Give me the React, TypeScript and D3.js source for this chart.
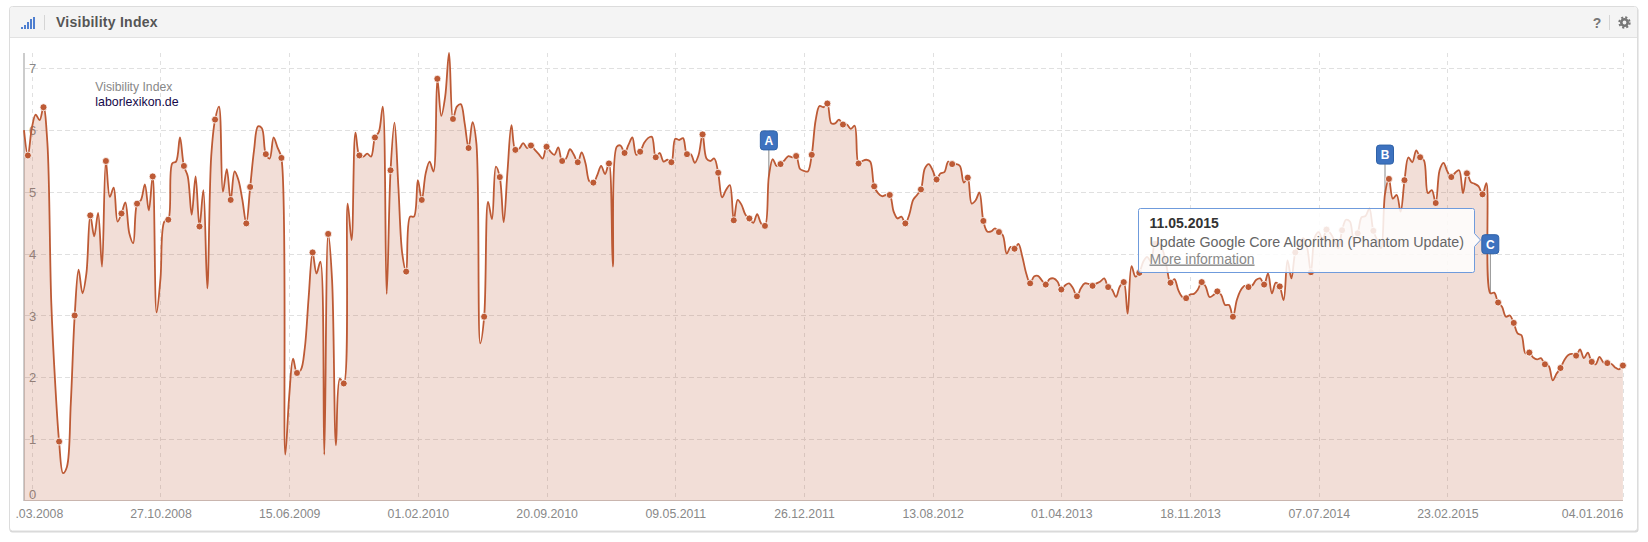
import { useRef, useEffect } from "react";
import * as d3 from "d3";

// one value per data point (weekly crawl)
const visibility = [
  6.0, 5.59, 6.03, 6.25, 6.16, 6.37, 5.79, 3.2, 1.9, 0.96,
  0.45, 0.55, 1.58, 3.0, 3.74, 3.36, 3.68, 4.62, 4.28, 4.66,
  3.79, 5.5, 4.92, 5.07, 4.52, 4.65, 4.83, 4.33, 4.17, 4.81,
  4.87, 5.12, 4.7, 5.25, 3.05, 3.6, 4.52, 4.55, 5.46, 5.49,
  5.88, 5.42, 5.25, 4.63, 5.25, 4.44, 5.03, 3.44, 5.57, 6.17,
  6.38, 5.0, 5.37, 4.87, 5.33, 5.19, 4.87, 4.49, 5.08, 5.68,
  6.06, 6.03, 5.61, 5.54, 5.88, 5.72, 5.55, 0.75, 1.69, 2.3,
  2.07, 2.12, 2.47, 3.3, 4.02, 3.68, 3.87, 0.75, 4.32, 3.57,
  0.9, 1.98, 1.9, 4.81, 4.22, 5.96, 5.59, 5.57, 5.62, 5.57,
  5.88, 5.97, 6.38, 3.35, 5.35, 6.12, 5.08, 4.0, 3.71, 4.6,
  4.6, 5.19, 4.87, 5.3, 5.49, 5.33, 6.83, 6.23, 6.54, 7.25,
  6.18, 6.38, 6.42, 6.11, 5.71, 6.13, 5.79, 2.55, 2.98, 4.84,
  4.56, 5.41, 5.24, 4.51, 5.35, 6.08, 5.68, 5.7, 5.79, 5.71,
  5.75, 5.68, 5.61, 5.54, 5.73, 5.65, 5.6, 5.72, 5.5, 5.54,
  5.69, 5.6, 5.48, 5.64, 5.46, 5.17, 5.15, 5.27, 5.42, 5.29,
  5.46, 3.79, 5.73, 5.75, 5.63, 5.76, 5.88, 5.6, 5.65, 5.79,
  5.87, 5.89, 5.56, 5.63, 5.49, 5.52, 5.48, 5.86, 5.84, 5.87,
  5.61, 5.61, 5.47, 5.6, 5.93, 5.54, 5.5, 5.54, 5.31, 4.91,
  5.03, 5.11, 4.54, 4.87, 4.79, 4.63, 4.57, 4.5, 4.64, 4.49,
  4.45, 5.25, 5.53, 5.42, 5.45, 5.51, 5.58, 5.56, 5.58, 5.37,
  5.34, 5.33, 5.6, 6.16, 6.39, 6.37, 6.43, 6.11, 6.11, 6.17,
  6.09, 6.09, 6.02, 6.07, 5.46, 5.5, 5.52, 5.49, 5.09, 4.98,
  4.93, 4.95, 4.95, 4.68, 4.57, 4.6, 4.49, 4.63, 4.87, 4.95,
  5.04, 5.38, 5.45, 5.35, 5.2, 5.3, 5.32, 5.49, 5.45, 5.45,
  5.42, 5.15, 5.23, 4.81, 4.86, 4.99, 4.53, 4.36, 4.36, 4.41,
  4.35, 4.3, 4.0, 4.11, 4.08, 4.16, 3.95, 3.68, 3.52, 3.63,
  3.64, 3.57, 3.5, 3.59, 3.6, 3.55, 3.42, 3.49, 3.52, 3.44,
  3.31, 3.44, 3.52, 3.51, 3.48, 3.52, 3.55, 3.6, 3.46, 3.42,
  3.3, 3.47, 3.54, 3.03, 3.8, 3.63, 3.69, 3.87, 3.95, 3.87,
  4.16, 4.17, 4.06, 3.79, 3.53, 3.59, 3.41, 3.3, 3.28, 3.34,
  3.35, 3.42, 3.54, 3.47, 3.3, 3.33, 3.39, 3.33, 3.17, 3.17,
  2.98, 3.25, 3.41, 3.48, 3.46, 3.49, 3.58, 3.6, 3.5, 3.68,
  3.36, 3.53, 3.47, 3.25, 3.89, 3.6, 4.02, 4.14, 4.25, 4.11,
  3.7, 4.27, 4.35, 4.22, 4.39, 4.33, 4.22, 4.09, 4.38, 4.55,
  4.52, 4.22, 4.33, 4.59, 4.61, 4.73, 4.37, 4.22, 4.09, 4.97,
  5.21, 4.89, 4.95, 4.68, 5.19, 5.56, 5.48, 5.67, 5.56, 5.51,
  4.98, 5.03, 4.82, 5.35, 5.47, 5.33, 5.24, 5.31, 5.35, 4.98,
  5.3, 5.16, 5.13, 5.09, 4.96, 5.14, 3.36, 3.37, 3.21, 3.14,
  2.98, 3.0, 2.88, 2.71, 2.68, 2.39, 2.4, 2.32, 2.29, 2.31,
  2.21, 2.18, 1.95, 2.06, 2.15, 2.28, 2.36, 2.38, 2.35, 2.45,
  2.31, 2.4, 2.25, 2.21, 2.33, 2.24, 2.23, 2.22, 2.16, 2.13,
  2.19,
];

// x axis is by data point, not by calendar
const xTickPoints = [2, 35, 68, 101, 134, 167, 200, 233, 266, 299, 332, 365, 410];
const xTickLabels = [
  ".03.2008", "27.10.2008", "15.06.2009", "01.02.2010", "20.09.2010",
  "09.05.2011", "26.12.2011", "13.08.2012", "01.04.2013", "18.11.2013",
  "07.07.2014", "23.02.2015", "04.01.2016",
];
const yTicks = [0, 1, 2, 3, 4, 5, 6, 7];

const flagLetters = ["A", "B", "C"];
const flagPoints = [191, 349, 376];
const flagBottoms = [5.68, 5.45, 4.0]; // where the flag box sits, in index units

const tooltipDate = "11.05.2015";
const tooltipText = "Update Google Core Algorithm (Phantom Update)";
const tooltipLink = "More information";

const signalHeights = [2, 4, 7, 10, 12];

const LINE = "#bd5a35";
const GRID = "#e0e0e0";
const FONT = "Arial, 'Liberation Sans', sans-serif";

export default function App() {
  const svgRef = useRef<SVGSVGElement>(null);

  useEffect(() => {
    const w = 1648;
    const h = 542;
    const svg = d3.select(svgRef.current).attr("width", w).attr("height", h);
    svg.selectAll("*").remove();
    svg.style("font-family", FONT);

    // panel + header
    svg.append("rect").attr("x", 9.5).attr("y", 7.5).attr("width", 1629).attr("height", 525)
      .attr("rx", 3).attr("fill", "#d8d8d8");
    svg.append("rect").attr("x", 9.5).attr("y", 6.5).attr("width", 1628).attr("height", 524.5)
      .attr("rx", 3).attr("fill", "#fff").attr("stroke", "#dcdcdc");
    svg.append("path").attr("d", "M10,37V10Q10,7 13,7H1634Q1637,7 1637,10V37Z").attr("fill", "#f4f4f4");
    svg.append("line").attr("x1", 10).attr("x2", 1637).attr("y1", 37.5).attr("y2", 37.5).attr("stroke", "#e2e2e2");

    // header icons
    svg.append("g").selectAll("rect").data(signalHeights).join("rect")
      .attr("x", (d, i) => 21 + i * 3)
      .attr("y", (d) => 29 - d)
      .attr("width", 2)
      .attr("height", (d) => d)
      .attr("fill", "#4f7fd0");
    svg.append("line").attr("x1", 44.5).attr("x2", 44.5).attr("y1", 15).attr("y2", 30).attr("stroke", "#d5d5d5");
    svg.append("text").attr("x", 56).attr("y", 27).attr("font-size", 14).attr("font-weight", "bold")
      .attr("letter-spacing", 0.25).attr("fill", "#555").text("Visibility Index");
    svg.append("text").attr("x", 1597).attr("y", 27.5).attr("text-anchor", "middle").attr("font-size", 14)
      .attr("font-weight", "bold").attr("fill", "#777").text("?");
    svg.append("line").attr("x1", 1609.5).attr("x2", 1609.5).attr("y1", 15).attr("y2", 30).attr("stroke", "#d5d5d5");
    svg.append("circle").attr("cx", 1624.5).attr("cy", 22.5).attr("r", 3.2).attr("fill", "none")
      .attr("stroke", "#777").attr("stroke-width", 2.6);
    svg.append("circle").attr("cx", 1624.5).attr("cy", 22.5).attr("r", 5.2).attr("fill", "none")
      .attr("stroke", "#777").attr("stroke-width", 2).attr("stroke-dasharray", "2.1,2");

    // scales
    const xScale = d3.scaleLinear().domain([0, visibility.length - 1]).range([24, 1622.9]);
    const yScale = d3.scaleLinear().domain([0, 7]).range([500.9, 68.3]);

    const top = 53;
    const bottom = 500.5;

    // grid
    svg.append("g").selectAll("line").data(xTickPoints).join("line")
      .attr("x1", (d) => Math.round(xScale(d)) + 0.5)
      .attr("x2", (d) => Math.round(xScale(d)) + 0.5)
      .attr("y1", top)
      .attr("y2", bottom)
      .attr("stroke", GRID)
      .attr("stroke-dasharray", "4,4");
    svg.append("g").selectAll("line").data(yTicks.slice(1)).join("line")
      .attr("x1", 25)
      .attr("x2", 1622)
      .attr("y1", (d) => Math.round(yScale(d)) + 0.5)
      .attr("y2", (d) => Math.round(yScale(d)) + 0.5)
      .attr("stroke", GRID)
      .attr("stroke-dasharray", "5,3");

    // axes
    const yAxis = d3.axisRight(yScale).tickValues(yTicks).tickSize(0).tickPadding(0).tickFormat(d3.format("d"));
    const yG = svg.append("g").attr("transform", "translate(29,0)").call(yAxis);
    yG.select(".domain").remove();
    yG.selectAll("text")
      .attr("font-family", FONT)
      .attr("font-size", 13)
      .attr("fill", "#888")
      .attr("dy", (d) => (d === 0 ? "-0.2em" : "0.36em"));

    const xAxis = d3.axisBottom(xScale)
      .tickValues(xTickPoints)
      .tickSize(0)
      .tickPadding(0)
      .tickFormat((d, i) => xTickLabels[i]);
    const xG = svg.append("g").attr("transform", "translate(0,509.5)").call(xAxis);
    xG.select(".domain").remove();
    xG.selectAll("text")
      .attr("font-family", FONT)
      .attr("font-size", 12.3)
      .attr("fill", "#888");
    xG.selectAll("text").filter((d, i) => i === 0)
      .attr("text-anchor", "end").attr("dx", 31);
    xG.selectAll("text").filter((d, i) => i === xTickLabels.length - 1)
      .attr("text-anchor", "end");

    svg.append("line").attr("x1", 24).attr("x2", 24).attr("y1", top).attr("y2", 501)
      .attr("stroke", "#ccc").attr("stroke-width", 2);
    svg.append("line").attr("x1", 24).attr("x2", 1623).attr("y1", 500.5).attr("y2", 500.5).attr("stroke", "#ccc");

    // legend
    svg.append("text").attr("x", 95.3).attr("y", 91).attr("font-size", 12.2).attr("fill", "#888").text("Visibility Index");
    svg.append("text").attr("x", 95.3).attr("y", 106).attr("font-size", 12.4).attr("fill", "#14084a").text("laborlexikon.de");

    // series
    const curve = d3.curveCatmullRom.alpha(0.5);
    const area = d3.area<number>()
      .x((d, i) => xScale(i))
      .y0(yScale(0))
      .y1((d) => yScale(d))
      .curve(curve);
    const line = d3.line<number>()
      .x((d, i) => xScale(i))
      .y((d) => yScale(d))
      .curve(curve);
    svg.append("path").attr("d", area(visibility)).attr("fill", LINE).attr("fill-opacity", 0.2);

    // flag poles sit under the line
    svg.append("g").selectAll("line").data(flagPoints).join("line")
      .attr("x1", (d) => xScale(d))
      .attr("x2", (d) => xScale(d))
      .attr("y1", (d, i) => yScale(flagBottoms[i]))
      .attr("y2", (d) => yScale(visibility[d]))
      .attr("stroke", "#888");

    svg.append("path").attr("d", line(visibility)).attr("fill", "none").attr("stroke", LINE).attr("stroke-width", 1.8);

    // a marker every 4 points, the phase shifts once after point 57
    const markerPoints = d3.range(visibility.length).filter((i) => (i <= 57 ? i % 4 === 1 : i % 4 === 2));
    svg.append("g").selectAll("circle").data(markerPoints).join("circle")
      .attr("cx", (d) => xScale(d))
      .attr("cy", (d) => yScale(visibility[d]))
      .attr("r", 3.5)
      .attr("fill", LINE)
      .attr("stroke", "#fff")
      .attr("stroke-width", 0.8);

    // flags
    const flags = svg.append("g").selectAll("g").data(flagPoints).join("g")
      .attr("transform", (d, i) => `translate(${xScale(d)},${yScale(flagBottoms[i])})`);
    flags.append("rect").attr("x", -8.5).attr("y", -19).attr("width", 17).attr("height", 19).attr("rx", 3)
      .attr("fill", "#3d72bf").attr("stroke", "#2f62a8");
    flags.append("text").attr("y", -5).attr("text-anchor", "middle").attr("font-size", 12)
      .attr("font-weight", "bold").attr("fill", "#fff").text((d, i) => flagLetters[i]);

    // tooltip
    const tip = svg.append("g").attr("transform", "translate(1138.5,208.5)");
    tip.append("path")
      .attr("d", "M2,0H334Q336,0 336,2V25L342,31.5L336,38V62Q336,64 334,64H2Q0,64 0,62V2Q0,0 2,0Z")
      .attr("fill", "#fff").attr("fill-opacity", 0.85).attr("stroke", "#6f9bdc");
    tip.append("text").attr("x", 11).attr("y", 19).attr("font-size", 14).attr("font-weight", "bold")
      .attr("fill", "#333").text(tooltipDate);
    tip.append("text").attr("x", 11).attr("y", 38).attr("font-size", 14.25).attr("fill", "#666").text(tooltipText);
    tip.append("text").attr("x", 11).attr("y", 55).attr("font-size", 14).attr("fill", "#888")
      .attr("text-decoration", "underline").text(tooltipLink);

    // C flag is in front of the tooltip arrow
    svg.node()?.appendChild(flags.filter((d, i) => i === 2).node() as Node);
  }, []);

  return (
    <div>
      <svg ref={svgRef} style={{ position: "absolute", left: 0, top: 0 }}></svg>
    </div>
  );
}
